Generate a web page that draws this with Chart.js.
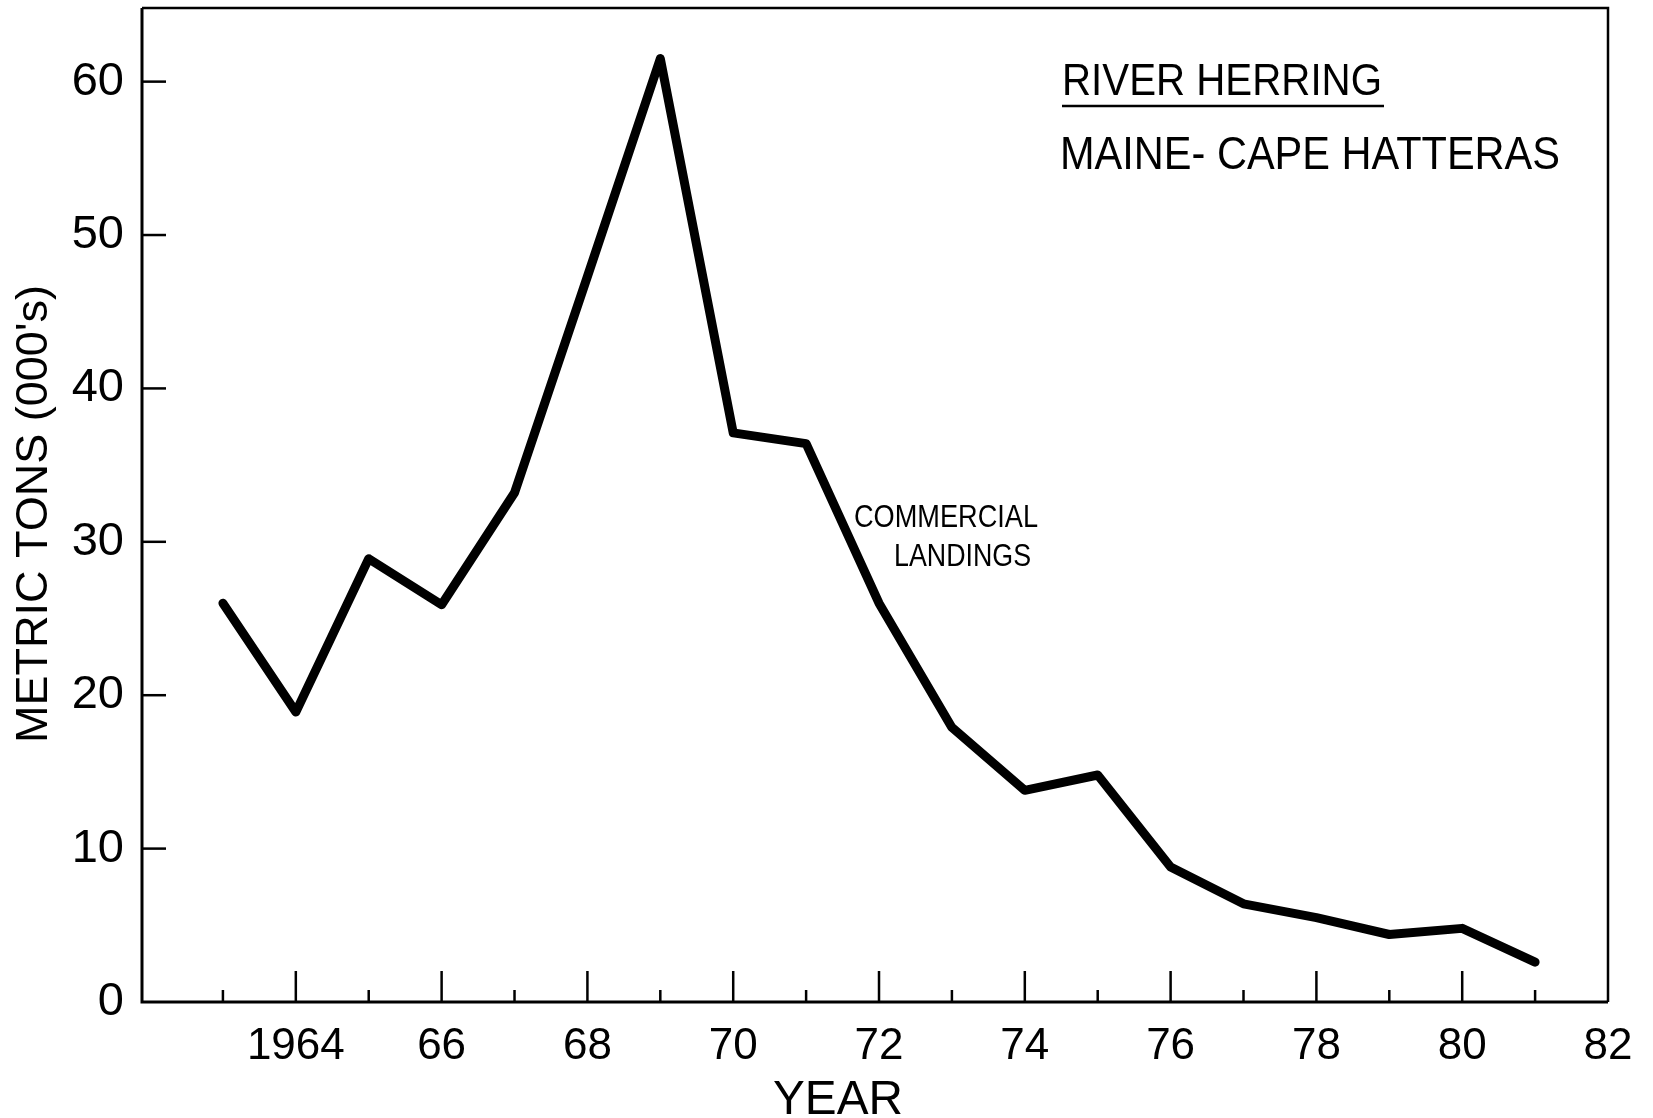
<!DOCTYPE html>
<html>
<head>
<meta charset="utf-8">
<script src="https://cdn.jsdelivr.net/npm/chart.js@4.4.1/dist/chart.umd.min.js"></script>
<style>
  html, body { margin: 0; padding: 0; background: #fff; }
  #wrap { width: 1653px; height: 1118px; }
</style>
</head>
<body>
<div id="wrap"><canvas id="herringChart" width="1653" height="1118"></canvas></div>
<script>
// river herring commercial landings, Maine - Cape Hatteras (thousands of metric tons)
const years = [1963, 1964, 1965, 1966, 1967, 1968, 1969, 1970, 1971, 1972,
               1973, 1974, 1975, 1976, 1977, 1978, 1979, 1980, 1981];
const landings = [26.0, 18.9, 28.9, 25.9, 33.2, 47.3, 61.5, 37.1, 36.4, 26.0,
                  17.9, 13.8, 14.8, 8.8, 6.4, 5.5, 4.4, 4.8, 2.6];
const yTicks = [0, 10, 20, 30, 40, 50, 60];
const xTicks = [1963, 1964, 1965, 1966, 1967, 1968, 1969, 1970, 1971, 1972,
                1973, 1974, 1975, 1976, 1977, 1978, 1979, 1980, 1981, 1982];

const FONT = '"Liberation Sans", Arial, sans-serif';

// draws text squeezed/stretched to a given width (hand lettering is uneven)
function fitText(ctx, text, x, y, size, width) {
    ctx.font = size + 'px ' + FONT;
    const w = ctx.measureText(text).width;
    ctx.save();
    ctx.translate(x, y);
    ctx.scale(width / w, 1);
    ctx.fillText(text, 0, 0);
    ctx.restore();
}

const framePlugin = {
    id: 'frame',
    afterDraw(chart) {
        const ctx = chart.ctx;
        const a = chart.chartArea;
        const xs = chart.scales.x;
        const ys = chart.scales.y;
        ctx.save();
        ctx.strokeStyle = '#000';
        ctx.fillStyle = '#000';
        ctx.lineCap = 'butt';

        // axes
        ctx.lineWidth = 3;
        ctx.beginPath();
        ctx.moveTo(a.left, a.top);
        ctx.lineTo(a.left, a.bottom);
        ctx.lineTo(a.right, a.bottom);
        ctx.stroke();
        ctx.lineWidth = 2.5;
        ctx.beginPath();
        ctx.moveTo(a.left, a.top);
        ctx.lineTo(a.right, a.top);
        ctx.lineTo(a.right, a.bottom);
        ctx.stroke();

        // inward ticks
        ctx.lineWidth = 2.5;
        ys.ticks.forEach(t => {
            if (t.value === 0) return;
            const py = ys.getPixelForValue(t.value);
            ctx.beginPath();
            ctx.moveTo(a.left, py);
            ctx.lineTo(a.left + 24, py);
            ctx.stroke();
        });
        xs.ticks.forEach(t => {
            if (t.value >= 1982) return;
            const px = xs.getPixelForValue(t.value);
            const len = t.value % 2 === 0 ? 31 : 12;
            ctx.beginPath();
            ctx.moveTo(px, a.bottom);
            ctx.lineTo(px, a.bottom - len);
            ctx.stroke();
        });

        // lettering
        ctx.textBaseline = 'alphabetic';
        ctx.textAlign = 'left';
        fitText(ctx, 'RIVER HERRING', 1062, 95, 45, 320);
        ctx.lineWidth = 2.5;
        ctx.beginPath();
        ctx.moveTo(1062, 106);
        ctx.lineTo(1384, 106);
        ctx.stroke();
        fitText(ctx, 'MAINE- CAPE HATTERAS', 1060, 169, 47, 500);
        fitText(ctx, 'COMMERCIAL', 854, 527, 32, 184);
        fitText(ctx, 'LANDINGS', 894, 566, 32, 137);
        fitText(ctx, 'YEAR', 773, 1114, 48, 130);

        ctx.save();
        ctx.translate(47, 743);
        ctx.rotate(-Math.PI / 2);
        fitText(ctx, "METRIC TONS (000's)", 0, 0, 44, 458);
        ctx.restore();

        ctx.restore();
    }
};

new Chart(document.getElementById('herringChart'), {
    type: 'line',
    data: {
        datasets: [{
            data: years.map((yr, i) => ({ x: yr, y: landings[i] })),
            borderColor: '#000',
            borderWidth: 9,
            borderJoinStyle: 'round',
            borderCapStyle: 'round',
            pointRadius: 0,
            tension: 0,
            fill: false
        }]
    },
    options: {
        responsive: false,
        animation: false,
        layout: { padding: { top: 8, right: 45, left: 0, bottom: 0 } },
        plugins: { legend: { display: false }, tooltip: { enabled: false } },
        scales: {
            x: {
                type: 'linear',
                min: 1961.89,
                max: 1982,
                afterBuildTicks: s => { s.ticks = xTicks.map(v => ({ value: v })); },
                afterFit: s => { s.height = 116; },
                grid: { display: false },
                border: { display: false },
                ticks: {
                    autoSkip: false,
                    maxRotation: 0,
                    padding: 10,
                    color: '#000',
                    font: { family: FONT, size: 44 },
                    callback: v => v % 2 !== 0 ? '' : (v === 1964 ? '1964' : String(v).slice(2))
                }
            },
            y: {
                min: 0,
                max: 64.8,
                afterBuildTicks: s => { s.ticks = yTicks.map(v => ({ value: v })); },
                afterFit: s => { s.width = 142; s.paddingTop = 0; s.paddingBottom = 0; },
                grid: { display: false },
                border: { display: false },
                ticks: {
                    padding: 10,
                    color: '#000',
                    font: { family: FONT, size: 47 }
                }
            }
        }
    },
    plugins: [framePlugin]
});
</script>
</body>
</html>
